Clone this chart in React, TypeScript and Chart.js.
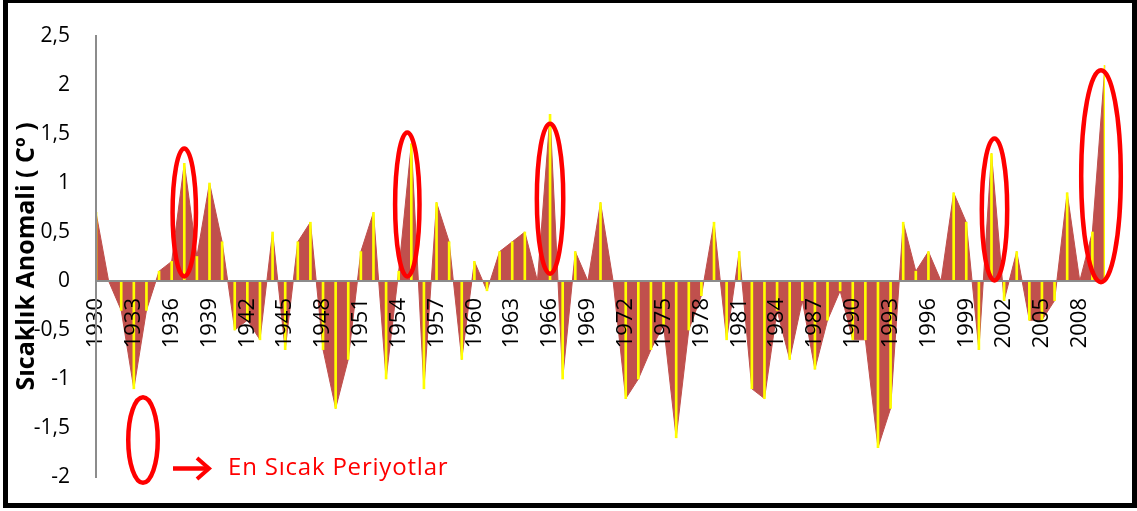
import { useEffect, useRef } from 'react';
import { Chart, registerables } from 'chart.js';

Chart.register(...registerables);

const YEARS = [
  '1930', '1931', '1932', '1933', '1934', '1935', '1936', '1937', '1938', '1939',
  '1940', '1941', '1942', '1943', '1944', '1945', '1946', '1947', '1948', '1949',
  '1950', '1951', '1952', '1953', '1954', '1955', '1956', '1957', '1958', '1959',
  '1960', '1961', '1962', '1963', '1964', '1965', '1966', '1967', '1968', '1969',
  '1970', '1971', '1972', '1973', '1974', '1975', '1976', '1977', '1978', '1979',
  '1980', '1981', '1982', '1983', '1984', '1985', '1986', '1987', '1988', '1989',
  '1990', '1991', '1992', '1993', '1994', '1995', '1996', '1997', '1998', '1999',
  '2000', '2001', '2002', '2003', '2004', '2005', '2006', '2007', '2008', '2009',
  '2010',
];

const ANOMALY = [
  0.7, 0, -0.3, -1.1, -0.3, 0.1, 0.2, 1.2, 0.25, 1.0,
  0.4, -0.5, -0.4, -0.6, 0.5, -0.7, 0.4, 0.6, -0.7, -1.3,
  -0.8, 0.3, 0.7, -1.0, 0.1, 1.4, -1.1, 0.8, 0.4, -0.8,
  0.2, -0.1, 0.3, 0.4, 0.5, 0, 1.7, -1.0, 0.3, 0,
  0.8, 0, -1.2, -1.0, -0.7, -0.45, -1.6, -0.5, -0.15, 0.6,
  -0.6, 0.3, -1.1, -1.2, -0.3, -0.8, -0.2, -0.9, -0.4, -0.1,
  -0.6, -0.6, -1.7, -1.3, 0.6, 0.1, 0.3, 0, 0.9, 0.6,
  -0.7, 1.3, -0.2, 0.3, -0.4, -0.4, -0.2, 0.9, 0, 0.5,
  2.2,
];

const Y_MIN = -2;
const Y_MAX = 2.5;
const Y_STEP = 0.5;

const HIGHLIGHT_YEARS = ['1937', '1955', '1966', '2001', '2010'];
const LEGEND_LABEL = 'En Sıcak Periyotlar';
const Y_TITLE = 'Sıcaklık Anomali ( Cº )';

// ellipse geometry (style only): centre value, radii in px, x nudge in px
const ELLIPSE_STYLE = [
  { cy: 0.70, rx: 11.7, ry: 64, dx: 0 },
  { cy: 0.78, rx: 12.2, ry: 72, dx: -4 },
  { cy: 0.84, rx: 13.2, ry: 75, dx: 0 },
  { cy: 0.73, rx: 12.7, ry: 71, dx: 3 },
  { cy: 1.07, rx: 19.8, ry: 106, dx: -4 },
];

const RED = '#FF0000';

const overlayPlugin = {
  id: 'overlayPlugin',
  afterDraw(chart: any) {
    const ctx = chart.ctx as CanvasRenderingContext2D;
    const xs = chart.scales.x;
    const ys = chart.scales.y;
    ctx.save();
    ctx.strokeStyle = RED;
    ctx.lineWidth = 4.5;
    HIGHLIGHT_YEARS.forEach((yr, k) => {
      const g = ELLIPSE_STYLE[k];
      const idx = YEARS.indexOf(yr);
      const cx = xs.getPixelForValue(idx) + g.dx;
      const cy = ys.getPixelForValue(g.cy);
      ctx.beginPath();
      ctx.ellipse(cx, cy, g.rx, g.ry, 0, 0, Math.PI * 2);
      ctx.stroke();
    });
    // legend
    const L = chart.chartArea.left;
    const B = chart.chartArea.bottom;
    ctx.beginPath();
    ctx.ellipse(L + 47, B - 37, 14.75, 42.75, 0, 0, Math.PI * 2);
    ctx.stroke();
    ctx.lineWidth = 4.5;
    ctx.beginPath();
    ctx.moveTo(L + 77, B - 8.5);
    ctx.lineTo(L + 112, B - 8.5);
    ctx.stroke();
    ctx.lineWidth = 4;
    ctx.lineJoin = 'miter';
    ctx.beginPath();
    ctx.moveTo(L + 101, B - 19);
    ctx.lineTo(L + 113, B - 8.5);
    ctx.lineTo(L + 101, B + 2);
    ctx.stroke();
    ctx.fillStyle = RED;
    ctx.font = '24px "Open Sans"';
    (ctx as any).letterSpacing = '0.8px';
    ctx.textAlign = 'left';
    ctx.textBaseline = 'alphabetic';
    ctx.fillText(LEGEND_LABEL, L + 132, B - 2);
    ctx.restore();
  },
};

export default function App() {
  const ref = useRef<HTMLCanvasElement>(null);
  useEffect(() => {
    const chart = new Chart(ref.current as HTMLCanvasElement, {
      type: 'line',
      data: {
        labels: YEARS,
        datasets: [
          {
            type: 'bar',
            data: ANOMALY,
            backgroundColor: '#FFFF00',
            borderWidth: 0,
            barThickness: 2,
            order: 1,
          } as any,
          {
            type: 'line',
            data: ANOMALY,
            fill: 'origin',
            backgroundColor: '#C0504D',
            borderColor: '#C0504D',
            borderWidth: 1,
            pointRadius: 0,
            tension: 0,
            order: 2,
          },
        ],
      },
      options: {
        responsive: false,
        animation: false,
        events: [],
        layout: { padding: { left: 8, right: 32, top: 36, bottom: 34 } },
        plugins: { legend: { display: false }, tooltip: { enabled: false } },
        scales: {
          x: {
            type: 'category',
            position: { y: 0 } as any,
            offset: false,
            grid: { display: false, drawTicks: true, tickLength: 17 },
            border: { display: true, color: '#8C8C8C', width: 2, z: 1 },
            ticks: {
              z: 1,
              autoSkip: false,
              minRotation: 90,
              maxRotation: 90,
              padding: 0,
              color: '#000',
              font: { family: '"Open Sans"', size: 22 },
              callback: (_v: any, i: number) => (i % 3 === 0 ? YEARS[i] : ''),
            },
          },
          y: {
            min: Y_MIN,
            max: Y_MAX,
            grid: { display: false, drawTicks: true, tickLength: 26 },
            border: { display: true, color: '#8C8C8C', width: 2, z: 1 },
            afterFit: (scale: any) => {
              scale.width = 88;
            },
            title: {
              display: true,
              text: Y_TITLE,
              color: '#000',
              font: { family: '"Open Sans"', size: 25, weight: 'bold' },
              padding: { top: 4, bottom: 0 },
            },
            ticks: {
              stepSize: Y_STEP,
              padding: 0,
              color: '#000',
              font: { family: '"Open Sans"', size: 21 },
              callback: (v: any) => String(v).replace('.', ','),
            },
          },
        },
      },
      plugins: [overlayPlugin],
    });
    return () => chart.destroy();
  }, []);
  return (
    <div style={{ position: 'absolute', left: 0, top: 0, width: 1137, height: 511, background: '#fff' }}>
      <canvas ref={ref} width={1137} height={511} style={{ display: 'block' }} />
      <div
        style={{
          position: 'absolute',
          left: 3,
          top: -2,
          width: 1134,
          height: 510,
          border: '5px solid #000',
          boxSizing: 'border-box',
          pointerEvents: 'none',
        }}
      />
    </div>
  );
}
